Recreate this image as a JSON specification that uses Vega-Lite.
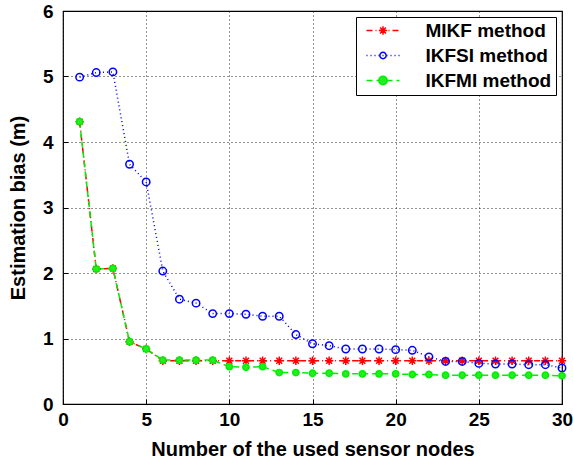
{
  "$schema": "https://vega.github.io/schema/vega-lite/v6.json",
  "width": 499,
  "height": 393,
  "autosize": {"type": "none"},
  "padding": {"left": 63, "top": 11, "right": 11, "bottom": 62},
  "background": "white",
  "config": {
    "view": {"stroke": "black", "strokeWidth": 1.2},
    "font": "Liberation Sans",
    "axis": {
      "labelFont": "Liberation Sans",
      "labelFontWeight": "bold",
      "labelFontSize": 19,
      "labelColor": "black",
      "titleFont": "Liberation Sans",
      "titleFontWeight": "bold",
      "titleFontSize": 20,
      "titleColor": "black",
      "domain": false,
      "tickColor": "black",
      "tickSize": -5,
      "tickWidth": 1,
      "gridColor": "black",
      "gridDash": [1, 3],
      "gridOpacity": 0.85,
      "gridWidth": 1
    },
    "legend": {
      "labelFont": "Liberation Sans",
      "labelFontWeight": "bold",
      "labelFontSize": 19,
      "labelColor": "black"
    }
  },
  "data": {
    "values": [
      {"x": 1, "y": 4.31, "method": "MIKF method"},
      {"x": 2, "y": 2.06, "method": "MIKF method"},
      {"x": 3, "y": 2.07, "method": "MIKF method"},
      {"x": 4, "y": 0.95, "method": "MIKF method"},
      {"x": 5, "y": 0.84, "method": "MIKF method"},
      {"x": 6, "y": 0.66, "method": "MIKF method"},
      {"x": 7, "y": 0.66, "method": "MIKF method"},
      {"x": 8, "y": 0.66, "method": "MIKF method"},
      {"x": 9, "y": 0.66, "method": "MIKF method"},
      {"x": 10, "y": 0.66, "method": "MIKF method"},
      {"x": 11, "y": 0.66, "method": "MIKF method"},
      {"x": 12, "y": 0.66, "method": "MIKF method"},
      {"x": 13, "y": 0.66, "method": "MIKF method"},
      {"x": 14, "y": 0.66, "method": "MIKF method"},
      {"x": 15, "y": 0.66, "method": "MIKF method"},
      {"x": 16, "y": 0.66, "method": "MIKF method"},
      {"x": 17, "y": 0.66, "method": "MIKF method"},
      {"x": 18, "y": 0.66, "method": "MIKF method"},
      {"x": 19, "y": 0.66, "method": "MIKF method"},
      {"x": 20, "y": 0.66, "method": "MIKF method"},
      {"x": 21, "y": 0.66, "method": "MIKF method"},
      {"x": 22, "y": 0.66, "method": "MIKF method"},
      {"x": 23, "y": 0.66, "method": "MIKF method"},
      {"x": 24, "y": 0.66, "method": "MIKF method"},
      {"x": 25, "y": 0.66, "method": "MIKF method"},
      {"x": 26, "y": 0.66, "method": "MIKF method"},
      {"x": 27, "y": 0.66, "method": "MIKF method"},
      {"x": 28, "y": 0.66, "method": "MIKF method"},
      {"x": 29, "y": 0.66, "method": "MIKF method"},
      {"x": 30, "y": 0.66, "method": "MIKF method"},
      {"x": 1, "y": 4.99, "method": "IKFSI method"},
      {"x": 2, "y": 5.06, "method": "IKFSI method"},
      {"x": 3, "y": 5.07, "method": "IKFSI method"},
      {"x": 4, "y": 3.66, "method": "IKFSI method"},
      {"x": 5, "y": 3.39, "method": "IKFSI method"},
      {"x": 6, "y": 2.03, "method": "IKFSI method"},
      {"x": 7, "y": 1.6, "method": "IKFSI method"},
      {"x": 8, "y": 1.54, "method": "IKFSI method"},
      {"x": 9, "y": 1.38, "method": "IKFSI method"},
      {"x": 10, "y": 1.38, "method": "IKFSI method"},
      {"x": 11, "y": 1.37, "method": "IKFSI method"},
      {"x": 12, "y": 1.34, "method": "IKFSI method"},
      {"x": 13, "y": 1.34, "method": "IKFSI method"},
      {"x": 14, "y": 1.06, "method": "IKFSI method"},
      {"x": 15, "y": 0.92, "method": "IKFSI method"},
      {"x": 16, "y": 0.89, "method": "IKFSI method"},
      {"x": 17, "y": 0.84, "method": "IKFSI method"},
      {"x": 18, "y": 0.84, "method": "IKFSI method"},
      {"x": 19, "y": 0.84, "method": "IKFSI method"},
      {"x": 20, "y": 0.83, "method": "IKFSI method"},
      {"x": 21, "y": 0.82, "method": "IKFSI method"},
      {"x": 22, "y": 0.72, "method": "IKFSI method"},
      {"x": 23, "y": 0.65, "method": "IKFSI method"},
      {"x": 24, "y": 0.65, "method": "IKFSI method"},
      {"x": 25, "y": 0.62, "method": "IKFSI method"},
      {"x": 26, "y": 0.61, "method": "IKFSI method"},
      {"x": 27, "y": 0.61, "method": "IKFSI method"},
      {"x": 28, "y": 0.6, "method": "IKFSI method"},
      {"x": 29, "y": 0.6, "method": "IKFSI method"},
      {"x": 30, "y": 0.55, "method": "IKFSI method"},
      {"x": 1, "y": 4.31, "method": "IKFMI method"},
      {"x": 2, "y": 2.06, "method": "IKFMI method"},
      {"x": 3, "y": 2.07, "method": "IKFMI method"},
      {"x": 4, "y": 0.95, "method": "IKFMI method"},
      {"x": 5, "y": 0.84, "method": "IKFMI method"},
      {"x": 6, "y": 0.67, "method": "IKFMI method"},
      {"x": 7, "y": 0.67, "method": "IKFMI method"},
      {"x": 8, "y": 0.67, "method": "IKFMI method"},
      {"x": 9, "y": 0.67, "method": "IKFMI method"},
      {"x": 10, "y": 0.57, "method": "IKFMI method"},
      {"x": 11, "y": 0.56, "method": "IKFMI method"},
      {"x": 12, "y": 0.57, "method": "IKFMI method"},
      {"x": 13, "y": 0.48, "method": "IKFMI method"},
      {"x": 14, "y": 0.48, "method": "IKFMI method"},
      {"x": 15, "y": 0.47, "method": "IKFMI method"},
      {"x": 16, "y": 0.47, "method": "IKFMI method"},
      {"x": 17, "y": 0.46, "method": "IKFMI method"},
      {"x": 18, "y": 0.46, "method": "IKFMI method"},
      {"x": 19, "y": 0.46, "method": "IKFMI method"},
      {"x": 20, "y": 0.46, "method": "IKFMI method"},
      {"x": 21, "y": 0.45, "method": "IKFMI method"},
      {"x": 22, "y": 0.45, "method": "IKFMI method"},
      {"x": 23, "y": 0.44, "method": "IKFMI method"},
      {"x": 24, "y": 0.44, "method": "IKFMI method"},
      {"x": 25, "y": 0.44, "method": "IKFMI method"},
      {"x": 26, "y": 0.44, "method": "IKFMI method"},
      {"x": 27, "y": 0.44, "method": "IKFMI method"},
      {"x": 28, "y": 0.44, "method": "IKFMI method"},
      {"x": 29, "y": 0.44, "method": "IKFMI method"},
      {"x": 30, "y": 0.43, "method": "IKFMI method"}
    ]
  },
  "encoding": {
    "x": {
      "field": "x", "type": "quantitative",
      "scale": {"domain": [0, 30], "nice": false, "zero": false},
      "axis": {"values": [0, 5, 10, 15, 20, 25, 30], "title": "Number of the used sensor nodes", "labelPadding": 11, "titlePadding": 10, "labelFlush": false}
    },
    "y": {
      "field": "y", "type": "quantitative",
      "scale": {"domain": [0, 6], "nice": false},
      "axis": {"values": [0, 1, 2, 3, 4, 5, 6], "title": "Estimation bias (m)", "labelPadding": 15, "titlePadding": 14, "labelFlush": false}
    }
  },
  "layer": [
    {
      "mark": {"type": "line", "strokeWidth": 1.5},
      "encoding": {
        "color": {
          "field": "method", "type": "nominal",
          "scale": {"domain": ["MIKF method", "IKFSI method", "IKFMI method"], "range": ["#ff0000", "#0000ff", "#00ee00"]},
          "legend": {"title": null, "orient": "none", "legendX": 293, "legendY": 6, "symbolType": "M-2.2,0L2.2,0", "symbolSize": 225, "symbolStrokeWidth": 1.5, "symbolOffset": 13.5, "strokeColor": "black", "fillColor": "white", "padding": 4, "rowPadding": 5, "labelOffset": 33, "labelExpr": "datum.label + '  '"}
        },
        "strokeDash": {
          "field": "method", "type": "nominal",
          "scale": {"domain": ["MIKF method", "IKFSI method", "IKFMI method"], "range": [[6, 3, 1, 3], [1, 3], [6, 4]]},
          "legend": {"title": null, "orient": "none", "legendX": 293, "legendY": 6, "symbolType": "M-2.2,0L2.2,0", "symbolSize": 225, "symbolStrokeWidth": 1.5, "symbolOffset": 13.5, "strokeColor": "black", "fillColor": "white", "padding": 4, "rowPadding": 5, "labelOffset": 33, "labelExpr": "datum.label + '  '"}
        },
        "order": {"field": "x"}
      }
    },
    {
      "mark": {"type": "point", "filled": false, "opacity": 1, "strokeWidth": 1.5},
      "encoding": {
        "stroke": {
          "field": "method", "type": "nominal",
          "scale": {"range": ["#ff0000", "#0000ff", "#00ee00"]},
          "sort": ["MIKF method", "IKFSI method", "IKFMI method"],
          "legend": {
            "title": null, "orient": "none", "legendX": 293, "legendY": 6, "padding": 4, "rowPadding": 5, "symbolOffset": 13.5, "labelOffset": 33, "labelExpr": "''",
            "symbolStrokeWidth": 1.5,
            "symbolOpacity": 1,
            "symbolFillColor": {"expr": "datum.value === 'IKFMI method' ? '#22ee22' : 'transparent'"},
            "symbolType": {"expr": "datum.value === 'MIKF method' ? 'M-1,0L1,0M0,-1L0,1M-0.7,-0.7L0.7,0.7M-0.7,0.7L0.7,-0.7' : 'circle'"},
            "symbolSize": {"expr": "datum.value === 'IKFSI method' ? 40 : 70"}
          }
        },
        "fill": {
          "field": "method", "type": "nominal",
          "sort": ["MIKF method", "IKFSI method", "IKFMI method"],
          "scale": {"range": ["transparent", "transparent", "#22ee22"]},
          "legend": null
        },
        "shape": {
          "field": "method", "type": "nominal",
          "sort": ["MIKF method", "IKFSI method", "IKFMI method"],
          "scale": {"range": ["M-1,0L1,0M0,-1L0,1M-0.7,-0.7L0.7,0.7M-0.7,0.7L0.7,-0.7", "circle", "circle"]},
          "legend": null
        },
        "size": {
          "field": "method", "type": "nominal",
          "sort": ["MIKF method", "IKFSI method", "IKFMI method"],
          "scale": {"range": [70, 40, 80]},
          "legend": null
        }
      }
    }
  ]
}
